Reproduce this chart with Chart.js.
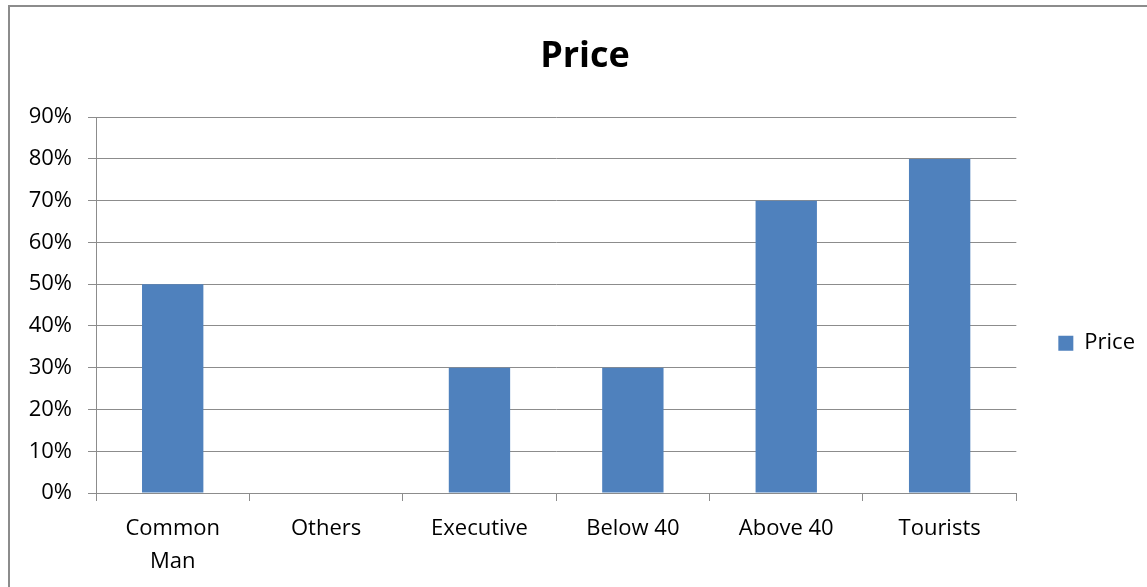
<!DOCTYPE html>
<html>
<head>
<meta charset="utf-8">
<script src="https://cdn.jsdelivr.net/npm/chart.js@4"></script>
<style>
    html, body { margin: 0; padding: 0; background: #fff; overflow: hidden; }
    #frame {
        position: absolute; left: 8px; top: 5px;
        width: 1150px; height: 600px;
        border: 2px solid #8c8c8c;
    }
    #chartWrap { position: relative; width: 1150px; height: 580px; }
</style>
</head>
<body>
<div id="frame"><div id="chartWrap"><canvas id="priceChart"></canvas></div></div>
<script>
const categories = [['Common', 'Man'], 'Others', 'Executive', 'Below 40', 'Above 40', 'Tourists'];
const priceValues = [50, 0, 30, 30, 70, 80];
const yTicks = [0, 10, 20, 30, 40, 50, 60, 70, 80, 90];

const font = "'Open Sans', sans-serif";
const gridGrey = '#8c8c8c';

const ctx = document.getElementById('priceChart').getContext('2d');
new Chart(ctx, {
    type: 'bar',
    data: {
        labels: categories,
        datasets: [{
            label: 'Price',
            data: priceValues,
            backgroundColor: '#4f81bd',
            borderWidth: 0,
            barPercentage: 0.8,
            categoryPercentage: 0.5
        }]
    },
    options: {
        responsive: true,
        maintainAspectRatio: false,
        animation: false,
        layout: { padding: { left: 15, right: 15, top: 0, bottom: 0 } },
        plugins: {
            title: {
                display: true,
                text: 'Price',
                color: '#000',
                font: { family: font, size: 36, weight: 'bold' },
                padding: { top: 28, bottom: 39 }
            },
            legend: {
                display: true,
                position: 'right',
                title: {
                    // empty title only used to push the entry down, like Excel does
                    display: true,
                    text: ' ',
                    font: { size: 12 },
                    padding: { top: 78, bottom: 0 }
                },
                labels: {
                    boxWidth: 15,
                    boxHeight: 15,
                    padding: 42,
                    color: '#000',
                    font: { family: font, size: 22 }
                }
            },
            tooltip: { enabled: false }
        },
        scales: {
            x: {
                afterFit: scale => { scale.height = 94; },
                grid: {
                    offset: true,
                    drawOnChartArea: false,
                    drawTicks: true,
                    tickLength: 8,
                    color: gridGrey
                },
                border: { color: gridGrey, width: 1 },
                ticks: {
                    color: '#000',
                    padding: 11,
                    maxRotation: 0,
                    font: { family: font, size: 22, lineHeight: 1.5 }
                }
            },
            y: {
                min: 0,
                max: 90,
                afterBuildTicks: scale => {
                    scale.ticks = yTicks.map(v => ({ value: v }));
                },
                afterFit: scale => { scale.width = 71; },
                grid: {
                    color: gridGrey,
                    tickLength: 8
                },
                border: { color: gridGrey, width: 1 },
                ticks: {
                    color: '#000',
                    padding: 16,
                    font: { family: font, size: 22 },
                    callback: v => v + '%'
                }
            }
        }
    }
});
</script>
</body>
</html>
